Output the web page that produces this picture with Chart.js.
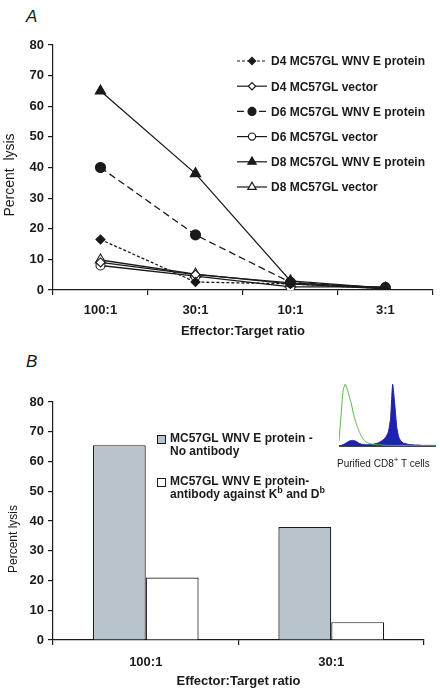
<!DOCTYPE html>
<html>
<head>
<meta charset="utf-8">
<script src="https://cdn.jsdelivr.net/npm/chart.js@4.4.1/dist/chart.umd.min.js"></script>
<style>
  body { margin: 0; background: #fff; }
  #wrap { position: relative; width: 440px; height: 694px; background: #fff; overflow: hidden;
          font-family: "Liberation Sans", Arial, sans-serif; color: #1a1a1a; }
  .panel { position: absolute; left: 26px; font-size: 17px; font-style: italic; line-height: 1; }
  canvas { position: absolute; }
  #insetLabel { position: absolute; left: 337px; top: 456px; font-size: 10px; white-space: nowrap; }
  #insetLabel sup { font-size: 8px; position: relative; top: -1px; }
</style>
</head>
<body>
<div id="wrap">
  <div class="panel" style="top:8px">A</div>
  <div class="panel" style="top:353px">B</div>
  <canvas id="chartA" style="left:0;top:0" width="440" height="345"></canvas>
  <canvas id="chartB" style="left:0;top:345px" width="440" height="349"></canvas>
  <canvas id="inset" style="left:339px;top:383px" width="97" height="71"></canvas>
  <div id="insetLabel">Purified CD8<sup>+</sup> T cells</div>
</div>
<script>
// panel A: lysis by effector:target ratio
const ratiosA = ['100:1', '30:1', '10:1', '3:1'];
const d4Protein = [16.5, 2.6, 2.0, 0.5];
const d4Vector = [9.0, 5.0, 2.3, 0.8];
const d6Protein = [40, 18, 2.5, 0.6];
const d6Vector = [8.0, 4.5, 1.0, 1.0];
const d8Protein = [65, 38, 3.0, 0.6];
const d8Vector = [9.8, 5.2, 2.0, 0.4];

// panel B: antibody blocking
const ratiosB = ['100:1', '30:1'];
const noAntibody = [65.5, 38];
const withAntibody = [21, 6];

// inset histogram (relative counts per bin)
const bins = Array.from({ length: 48 }, (_, i) => i);
const isotypeCounts = [8, 50, 90, 100, 92, 80, 68, 52, 40, 30, 22, 15, 10, 7, 5, 4, 3, 3, 2, 2, 2, 1.5, 1.5, 1,
  1, 1, 1, 1, 1, 1, 1, 1, 0.5, 0.5, 0.5, 0.5, 0.5, 0.5, 0.5, 0.5, 0.5, 0.5, 0.5, 0.5, 0.5, 0.5, 0.5, 0.5];
const cd8Counts = [0.5, 1, 2, 4, 6, 8, 9, 9, 8, 6, 4, 3, 2.5, 2, 2, 2, 2.5, 3, 4, 5, 7, 9, 12, 16,
  24, 45, 100, 68, 30, 14, 8, 5, 4, 3, 2.5, 2, 2, 1.5, 1.5, 1.5, 1, 1, 1, 1, 1, 1, 1, 1];

Chart.defaults.font.family = "'Liberation Sans', Arial, sans-serif";
Chart.defaults.color = '#1a1a1a';
const ink = '#1a1a1a';

function drawMarker(ctx, style, x, y, r, fill) {
  ctx.beginPath();
  if (style === 'circle') {
    ctx.arc(x, y, r, 0, Math.PI * 2);
  } else if (style === 'rectRot') {
    ctx.moveTo(x - r, y); ctx.lineTo(x, y - r); ctx.lineTo(x + r, y); ctx.lineTo(x, y + r);
    ctx.closePath();
  } else if (style === 'triangle') {
    for (let k = 0; k < 3; k++) {
      const a = k * 2 * Math.PI / 3;
      const px = x + Math.sin(a) * r, py = y - Math.cos(a) * r;
      k === 0 ? ctx.moveTo(px, py) : ctx.lineTo(px, py);
    }
    ctx.closePath();
  }
  ctx.fillStyle = fill;
  ctx.fill();
  ctx.stroke();
}

const sideTitle = {
  id: 'sideTitle',
  afterDraw(chart, args, opts) {
    const ctx = chart.ctx;
    ctx.save();
    ctx.translate(opts.x, opts.y);
    ctx.rotate(-Math.PI / 2);
    ctx.font = opts.font;
    ctx.fillStyle = ink;
    ctx.textAlign = 'center';
    ctx.textBaseline = 'middle';
    ctx.fillText(opts.text, 0, 0);
    ctx.restore();
  }
};

const lineLegend = {
  id: 'lineLegend',
  afterDraw(chart, args, opts) {
    const ctx = chart.ctx;
    ctx.save();
    chart.data.datasets.forEach((ds, i) => {
      const y = opts.y + i * opts.gap;
      ctx.strokeStyle = ink;
      ctx.lineWidth = 1.2;
      ctx.setLineDash(ds.borderDash || []);
      ctx.beginPath();
      ctx.moveTo(opts.x, y);
      ctx.lineTo(opts.x + 30, y);
      ctx.stroke();
      ctx.setLineDash([]);
      drawMarker(ctx, ds.pointStyle, opts.x + 15, y, ds.pointRadius * 0.8, ds.pointBackgroundColor);
      ctx.fillStyle = ink;
      ctx.font = 'bold 12px "Liberation Sans", Arial, sans-serif';
      ctx.textBaseline = 'middle';
      ctx.fillText(ds.label, opts.x + 34, y + 1);
    });
    ctx.restore();
  }
};

const boxLegend = {
  id: 'boxLegend',
  afterDraw(chart, args, opts) {
    const ctx = chart.ctx;
    ctx.save();
    ctx.font = 'bold 12px "Liberation Sans", Arial, sans-serif';
    ctx.textBaseline = 'middle';
    opts.items.forEach((item, i) => {
      const ds = chart.data.datasets[i];
      ctx.fillStyle = ds.backgroundColor;
      ctx.strokeStyle = ink;
      ctx.lineWidth = 1;
      ctx.fillRect(opts.x, item.y - 4, 8, 8);
      ctx.strokeRect(opts.x + 0.5, item.y - 3.5, 8, 8);
      ctx.fillStyle = ink;
      item.lines.forEach((parts, j) => {
        let x = opts.x + 13;
        const y = item.y + j * 12.5;
        parts.forEach(p => {
          if (p.sup) {
            ctx.font = 'bold 9px "Liberation Sans", Arial, sans-serif';
            ctx.fillText(p.sup, x, y - 4);
            x += ctx.measureText(p.sup).width;
            ctx.font = 'bold 12px "Liberation Sans", Arial, sans-serif';
          } else {
            ctx.fillText(p.t, x, y);
            x += ctx.measureText(p.t).width;
          }
        });
      });
    });
    ctx.restore();
  }
};

const tickFont = { size: 13, weight: 'bold' };

function yAxis(step) {
  return {
    min: 0, max: 80,
    ticks: { stepSize: step, font: tickFont, padding: 4, color: ink },
    grid: { drawOnChartArea: false, drawTicks: true, tickLength: 5, color: ink, lineWidth: 1.2 },
    border: { color: ink, width: 1.2 },
    afterFit: s => { s.width = 53; }
  };
}

function xAxis(h, labelPad, titlePad) {
  return {
    offset: true,
    grid: { offset: true, drawOnChartArea: false, drawTicks: true, tickLength: 5, color: ink, lineWidth: 1.2 },
    border: { color: ink, width: 1.2 },
    ticks: { font: tickFont, padding: labelPad, color: ink, maxRotation: 0 },
    title: { display: true, text: 'Effector:Target ratio', font: { size: 13, weight: 'bold' }, color: ink,
             padding: { top: 0, bottom: titlePad } },
    afterFit: s => { s.height = h; }
  };
}

const seriesA = [
  { label: 'D4 MC57GL WNV E protein', data: d4Protein, dash: [3, 2], style: 'rectRot', r: 4.5, fill: ink },
  { label: 'D4 MC57GL vector', data: d4Vector, dash: [], style: 'rectRot', r: 4.5, fill: '#fff' },
  { label: 'D6 MC57GL WNV E protein', data: d6Protein, dash: [7, 4], style: 'circle', r: 5, fill: ink },
  { label: 'D6 MC57GL vector', data: d6Vector, dash: [], style: 'circle', r: 4.5, fill: '#fff' },
  { label: 'D8 MC57GL WNV E protein', data: d8Protein, dash: [], style: 'triangle', r: 6, fill: ink },
  { label: 'D8 MC57GL vector', data: d8Vector, dash: [], style: 'triangle', r: 6, fill: '#fff' }
];

new Chart(document.getElementById('chartA'), {
  type: 'line',
  data: {
    labels: ratiosA,
    datasets: seriesA.map(s => ({
      label: s.label,
      data: s.data,
      borderColor: ink,
      borderWidth: 1.3,
      borderDash: s.dash,
      pointStyle: s.style,
      pointRadius: s.r,
      pointBackgroundColor: s.fill,
      pointBorderColor: ink,
      pointBorderWidth: 1.1,
      tension: 0
    }))
  },
  options: {
    responsive: false,
    animation: false,
    layout: { padding: { top: 45, right: 5, left: 0, bottom: 0 } },
    plugins: {
      legend: { display: false },
      tooltip: { enabled: false },
      sideTitle: { text: 'Percent  lysis', x: 10, y: 175, font: '14px "Liberation Sans", Arial, sans-serif' },
      lineLegend: { x: 237, y: 61, gap: 25.2 }
    },
    scales: { x: xAxis(55, 8, 6), y: yAxis(10) }
  },
  plugins: [sideTitle, lineLegend]
});

new Chart(document.getElementById('chartB'), {
  type: 'bar',
  data: {
    labels: ratiosB,
    datasets: [
      { label: 'MC57GL WNV E protein - No antibody', data: noAntibody, backgroundColor: '#b8c3cb',
        borderColor: ink, borderWidth: 1.2 },
      { label: 'MC57GL WNV E protein- antibody against Kb and Db', data: withAntibody, backgroundColor: '#ffffff',
        borderColor: ink, borderWidth: 1.2 }
    ]
  },
  options: {
    responsive: false,
    animation: false,
    layout: { padding: { top: 57, right: 16, left: 0, bottom: 0 } },
    datasets: { bar: { categoryPercentage: 0.57, barPercentage: 1.0 } },
    plugins: {
      legend: { display: false },
      tooltip: { enabled: false },
      sideTitle: { text: 'Percent lysis', x: 14, y: 194, font: '12px "Liberation Sans", Arial, sans-serif' },
      boxLegend: {
        x: 157,
        items: [
          { y: 94, lines: [[{ t: 'MC57GL WNV E protein -' }], [{ t: 'No antibody' }]] },
          { y: 137, lines: [[{ t: 'MC57GL WNV E protein-' }],
            [{ t: 'antibody against K' }, { sup: 'b' }, { t: ' and D' }, { sup: 'b' }]] }
        ]
      }
    },
    scales: { x: xAxis(54, 10, 5), y: yAxis(10) }
  },
  plugins: [sideTitle, boxLegend]
});

new Chart(document.getElementById('inset'), {
  type: 'line',
  data: {
    labels: bins,
    datasets: [
      { data: isotypeCounts, borderColor: '#5cb54c', borderWidth: 1, pointRadius: 0, fill: false, tension: 0.2 },
      { data: cd8Counts, borderColor: '#1f1fa6', backgroundColor: '#1f22b0', borderWidth: 1, pointRadius: 0,
        fill: 'origin', tension: 0.2 }
    ]
  },
  options: {
    responsive: false,
    animation: false,
    layout: { padding: 0 },
    plugins: { legend: { display: false }, tooltip: { enabled: false } },
    scales: {
      x: { display: true, grid: { display: false }, ticks: { display: false },
           border: { color: '#444', width: 1, dash: [1, 2] } },
      y: { display: false, min: 0, max: 102 }
    }
  }
});
</script>
</body>
</html>
